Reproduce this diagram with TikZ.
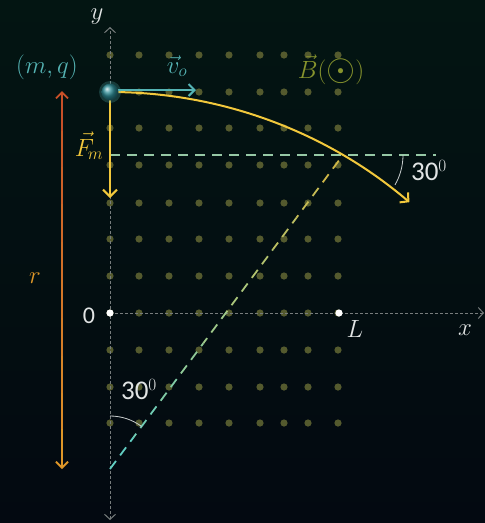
\documentclass[tikz,border=0pt]{standalone}
\usepackage{fontspec}
\usepackage{graphicx}
\newfontfamily\numfont{Carlito}
\usetikzlibrary{arrows.meta,calc}
\definecolor{bgtop}{RGB}{3,21,18}
\definecolor{bgbot}{RGB}{3,9,17}
\definecolor{dotc}{RGB}{84,90,46}
\definecolor{axisc}{RGB}{120,125,125}
\definecolor{tealc}{RGB}{85,180,180}
\definecolor{yellowc}{RGB}{242,200,60}
\definecolor{olivec}{RGB}{135,148,45}
\definecolor{hdashc}{RGB}{150,200,165}
\definecolor{radtop}{RGB}{210,180,65}
\definecolor{radmid}{RGB}{165,200,130}
\definecolor{radbot}{RGB}{90,205,200}
\definecolor{rtop}{RGB}{200,80,40}
\definecolor{rbot}{RGB}{222,150,40}
\definecolor{anglec}{RGB}{200,205,205}
\definecolor{labc}{RGB}{225,228,228}
\begin{document}
\begin{tikzpicture}[x=1pt,y=-1pt,
  mathlab/.style={font=\fontsize{25}{30}\selectfont, inner sep=0pt},
  numlab/.style={font=\numfont\fontsize{27}{32}\selectfont, inner sep=0pt, text=labc},
  axisline/.style={draw=axisc, line width=0.9pt, dash pattern=on 3pt off 2pt},
  griddot/.style={fill=dotc},
  angarc/.style={draw=anglec, line width=0.8pt},
  dashpat/.style={line width=1.8pt, dash pattern=on 10pt off 7pt},
]
\fill[top color=bgtop,bottom color=bgbot] (0,0) rectangle (485,523);
\useasboundingbox (0,0) rectangle (485,523);
% grid of dots (B out of page)
\foreach \gx in {110,139,169,199,229,260,284,308,338}
  \foreach \gy in {55,92,128,165,203,239,276,313,350,387,423}
    \fill[griddot] (\gx,\gy) circle (3.6);
% coordinates
\coordinate (O) at (110,313);
\coordinate (ytop) at (110,27);
\coordinate (ybot) at (110,520);
\coordinate (xend) at (484,313);
\coordinate (P) at (110,92);
\coordinate (Lp) at (339,313);
\coordinate (E) at (343,155);
\coordinate (C) at (110,469);
\coordinate (hstart) at (110,155);
\coordinate (hend) at (436,155);
\coordinate (vend) at (196,90);
\coordinate (vstart) at (110,90);
\coordinate (Fend) at (110,198);
\coordinate (rtopp) at (62,91);
\coordinate (rbotp) at (62,469);
% axes
\draw[axisline, {Straight Barb[length=5pt,width=11pt,line width=1pt]}-{Straight Barb[length=5pt,width=11pt,line width=1pt]}] (ybot) -- (ytop);
\draw[axisline, -{Straight Barb[length=5pt,width=11pt,line width=1pt]}] (O) -- (xend);
% horizontal dashed line through exit point
\draw[hdashc, dashpat] (hstart) -- (hend);
% radius dashed line with colour gradient (teal -> pale green -> yellow)
\foreach \k in {0,...,9}{
  \pgfmathsetmacro{\tt}{(\k+0.5)/10}
  \pgfmathsetmacro{\ph}{\k*391/10}
  \ifdim \tt pt < 0.5pt
    \pgfmathsetmacro{\pc}{200*\tt}
    \colorlet{segc}{radmid!\pc!radbot}
  \else
    \pgfmathsetmacro{\pc}{200*(\tt-0.5)}
    \colorlet{segc}{radtop!\pc!radmid}
  \fi
  \draw[segc, dashpat, dash phase=\ph pt]
    ($(C)!\k/10!(E)$) -- ($(C)!{(\k+1)/10}!(E)$);
}
% r arrow with gradient
\foreach \k in {1,...,8}{
  \pgfmathsetmacro{\pc}{100*(\k+0.5)/10}
  \draw[rbot!\pc!rtop, line width=1.8pt]
    ($(rtopp)!\k/10!(rbotp)$) -- ($(rtopp)!{(\k+1)/10+0.002}!(rbotp)$);
}
\draw[rtop, line width=1.8pt, {Straight Barb[length=6pt,width=12pt,line width=1.8pt]}-] (rtopp) -- ($(rtopp)!0.105!(rbotp)$);
\draw[rbot, line width=1.8pt, -{Straight Barb[length=6pt,width=12pt,line width=1.8pt]}] ($(rtopp)!0.895!(rbotp)$) -- (rbotp);
% trajectory
\draw[yellowc, line width=2pt, -{Straight Barb[length=6pt,width=13pt,line width=2pt]}]
  (P) arc[start angle=-90, end angle=-49.6, radius=462];
% force
\draw[yellowc, line width=2pt, -{Straight Barb[length=7pt,width=14pt,line width=2pt]}] (P) -- (Fend);
% velocity
\draw[tealc, line width=2pt, -{Straight Barb[length=6pt,width=12pt,line width=2pt]}] (vstart) -- (vend);
% particle
\fill[tealc, opacity=0.25] (P) circle (11);
\shade[ball color={rgb,255:red,45;green,140;blue,150}] (P) circle (8.5);
\node (particle) at (P) {};
% angle arcs
\draw[angarc] ($(E)+(60,0)$) arc[start angle=0, end angle=30, radius=60];
\draw[angarc] ($(C)+(0,-53)$) arc[start angle=-90, end angle=-53.4, radius=53];
% points
\fill[white] (O) circle (3.6);
\fill[white] (Lp) circle (3.6);
% labels
\node[mathlab, text=labc] (ylab) at (97,17) {$y$};
\node[mathlab, text=labc] (xlab) at (465,330) {$x$};
\node[numlab, font=\numfont\fontsize{24}{28}\selectfont] (olab) at (89,316) {0};
\node[mathlab, text=labc] (llab) at (355,329) {$L$};
\node[mathlab, text=tealc] (mq) at (47,67) {$(m,q)$};
\node[mathlab, text=tealc] (vlab) at (177,66) {$\vec{v}_o$};
\node[mathlab, text=yellowc] (flab) at (89,146) {$\vec{F}_{\!m}$};
\node[mathlab, text=olivec] (blab) at (331,70) {$\vec{B}(\raisebox{-0.08em}{\scalebox{1.5}{$\odot$}})$};
\node[mathlab, text=rbot] (rlab) at (35,278) {$r$};
\node[numlab] (a1) at (429,171) {30$^0$};
\node[numlab] (a2) at (139,390) {30$^0$};
\end{tikzpicture}
\end{document}
